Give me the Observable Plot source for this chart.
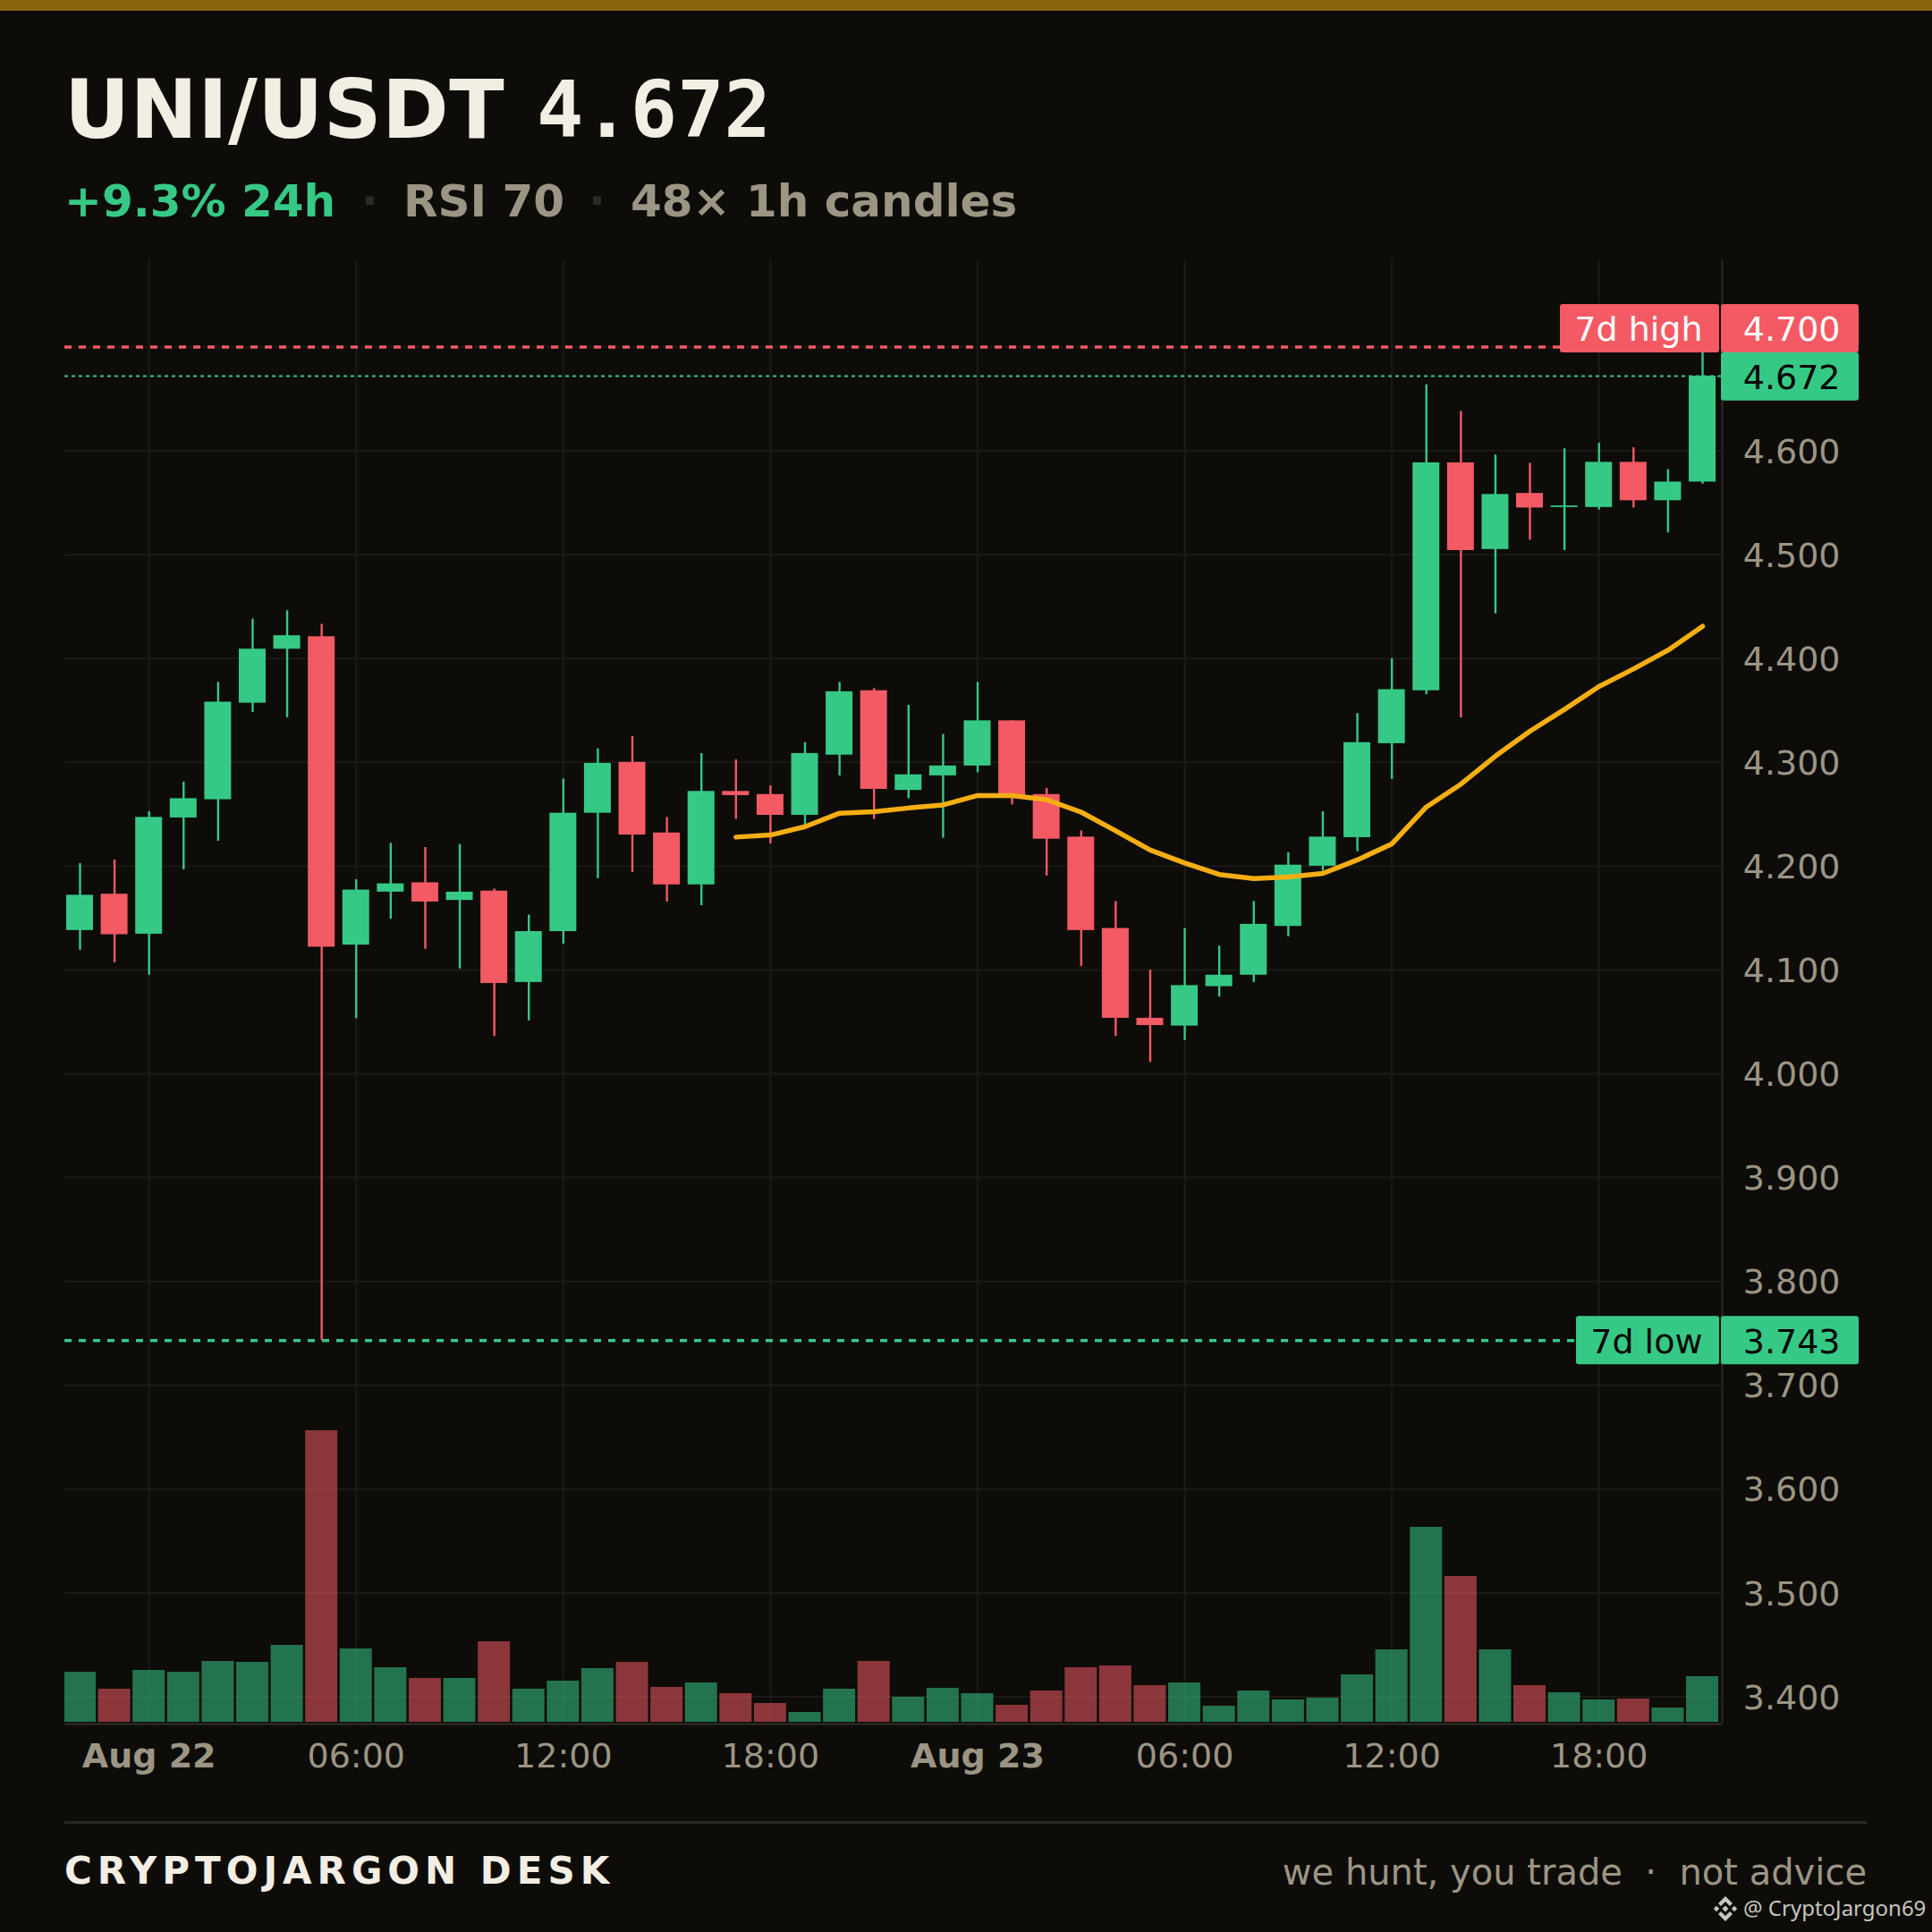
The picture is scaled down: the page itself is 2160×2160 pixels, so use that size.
<!DOCTYPE html>
<html><head><meta charset="utf-8">
<script src="https://cdn.jsdelivr.net/npm/d3@7"></script>
<script src="https://cdn.jsdelivr.net/npm/@observablehq/plot@0.6"></script>
<style>
html,body{margin:0;padding:0;background:#0d0c09;}
#page{position:relative;width:2160px;height:2160px;overflow:hidden;background:#0d0c09;font-family:"DejaVu Sans",sans-serif;}
#band{position:absolute;left:0;top:0;width:2160px;height:12px;background:#8b6410;}
.t{position:absolute;white-space:pre;line-height:1;}
#chart svg,#vol svg{position:absolute;left:0;top:0;background:transparent;}
#chart,#vol{position:absolute;left:0;top:260px;width:2160px;}
</style></head><body>
<div id="page">
<div id="band"></div>
<div class="t" style="left:72px;top:78px;font-size:90px;font-weight:700;letter-spacing:0.4px;color:#f3eee3">UNI/USDT</div>
<div class="t" style="left:600px;top:80px;font-size:87px;font-weight:700;font-family:'DejaVu Sans Mono';color:#f3eee3">4.672</div>
<div class="t" style="left:72px;top:200px;font-size:50px;font-weight:700;color:#36c986">+9.3% 24h</div>
<div class="t" style="left:404px;top:200px;font-size:50px;font-weight:700;color:#2c2a24">·</div>
<div class="t" style="left:451px;top:200px;font-size:50px;font-weight:700;color:#9c9584">RSI 70</div>
<div class="t" style="left:658px;top:200px;font-size:50px;font-weight:700;color:#2c2a24">·</div>
<div class="t" style="left:705px;top:200px;font-size:50px;font-weight:700;color:#9c9584">48× 1h candles</div>
<div id="chart"></div>
<div id="vol"></div>
<div style="position:absolute;left:72px;top:2036px;width:2015px;height:3px;background:#2a2822"></div>
<div class="t" style="left:72px;top:2071px;font-size:42px;font-weight:700;letter-spacing:6px;color:#f3eee3">CRYPTOJARGON DESK</div>
<div class="t" style="right:73px;top:2073px;font-size:40px;color:#9c9584">we hunt, you trade  ·  not advice</div>
<svg style="position:absolute;left:1915px;top:2120px" width="28" height="28" viewBox="0 0 28 28" fill="#c8c6bf">
<path d="M14 0L22 8 19 11 14 6 9 11 6 8zM14 28L22 20 19 17 14 22 9 17 6 20zM14 10.500L17.500 14 14 17.500 10.500 14zM4 10.800L7.200 14 4 17.200 0.800 14zM24 10.800L27.200 14 24 17.200 20.800 14z"/></svg>
<div class="t" style="left:1949px;top:2120.500px;font-size:24px;font-family:'Noto Sans';color:#c8c6bf">@ CryptoJargon69</div>
</div>
<script>
// Hourly candles
const opens  = [4.138,4.173,4.1345,4.2465,4.264,4.357,4.409,4.421,4.124,4.175,4.184,4.167,4.176,4.088,4.137,4.251,4.300,4.232,4.182,4.272,4.269,4.249,4.307,4.369,4.273,4.287,4.2965,4.340,4.269,4.228,4.140,4.0535,4.046,4.084,4.095,4.142,4.200,4.2275,4.318,4.369,4.5885,4.505,4.559,4.5455,4.5455,4.589,4.552,4.570];
const closes = [4.172,4.134,4.247,4.265,4.358,4.409,4.422,4.122,4.177,4.183,4.1655,4.175,4.087,4.137,4.251,4.299,4.230,4.182,4.272,4.268,4.249,4.3085,4.368,4.274,4.288,4.2965,4.340,4.268,4.226,4.138,4.0535,4.0465,4.085,4.095,4.144,4.201,4.228,4.319,4.370,4.5885,4.504,4.558,4.545,4.547,4.589,4.552,4.570,4.672];
const highs  = [4.2025,4.206,4.2525,4.281,4.377,4.438,4.446,4.433,4.187,4.222,4.218,4.221,4.178,4.153,4.284,4.313,4.325,4.247,4.3085,4.3025,4.2775,4.319,4.377,4.371,4.355,4.327,4.377,4.340,4.275,4.234,4.166,4.100,4.140,4.123,4.166,4.213,4.2525,4.347,4.400,4.6635,4.638,4.596,4.588,4.602,4.6075,4.603,4.582,4.700];
const lows   = [4.119,4.107,4.095,4.1965,4.224,4.348,4.343,3.743,4.053,4.149,4.120,4.101,4.036,4.051,4.125,4.188,4.194,4.1655,4.162,4.245,4.2215,4.240,4.287,4.245,4.265,4.227,4.290,4.259,4.1905,4.1035,4.036,4.011,4.032,4.074,4.088,4.132,4.195,4.214,4.2835,4.365,4.343,4.443,4.514,4.504,4.543,4.545,4.521,4.568];
const volumes = [56,37,58,56,68,67,86,326,82,61,49,49,90,37,46,60,67,39,44,32,21,11,37,68,28,38,32,19,35,61,63,41,44,18,35,25,27,53,81,218,163,81,41,33,25,26,16,51];
const maFirst = 19;
const maValues = [4.228,4.230,4.238,4.251,4.2525,4.256,4.259,4.268,4.268,4.264,4.252,4.234,4.2155,4.203,4.192,4.188,4.1895,4.193,4.206,4.2215,4.257,4.279,4.306,4.330,4.351,4.373,4.390,4.408,4.431];
const priceTicks = [3.4,3.5,3.6,3.7,3.8,3.9,4.0,4.1,4.2,4.3,4.4,4.5,4.6];
const gridPrices = [3.4,3.5,3.6,3.7,3.8,3.9,4.0,4.1,4.2,4.3,4.4,4.5,4.6,4.7];
const dayTicks = ["2025-08-22T00:00Z","2025-08-23T00:00Z"].map(s=>new Date(s));
const hourTicks = ["2025-08-22T06:00Z","2025-08-22T12:00Z","2025-08-22T18:00Z","2025-08-23T06:00Z","2025-08-23T12:00Z","2025-08-23T18:00Z"].map(s=>new Date(s));
const HIGH7 = 4.700, LOW7 = 3.743, LAST = 4.672;

const GREEN="#36c986", RED="#f45a63", GOLD="#f5ae12", MUTED="#9c9584", GRID="#1b1a16", AXIS="#2a2822";
const HOUR=3600e3, T0=Date.UTC(2025,7,21,22);
const xDomain=[new Date(T0-0.44*HOUR),new Date(T0+47.57*HOUR)];
const xEnd=xDomain[1];
const candles=opens.map((o,i)=>({t:T0+i*HOUR,o,c:closes[i],h:highs[i],l:lows[i],v:volumes[i],col:closes[i]>=o?GREEN:RED}));
const ma=maValues.map((v,i)=>({t:new Date(T0+(i+maFirst)*HOUR),v}));
const common={width:2160,height:1760,marginTop:30,marginBottom:93,marginLeft:72,marginRight:235,
  x:{type:"utc",domain:xDomain},style:{background:"transparent",fontFamily:"'DejaVu Sans',sans-serif",overflow:"visible"}};
const tagsVal=[{v:HIGH7,txt:"4.700",bg:RED,fg:"#ffffff",sh:-20.6},{v:LAST,txt:"4.672",bg:GREEN,fg:"#000000",sh:0.8},{v:LOW7,txt:"3.743",bg:GREEN,fg:"#000000",sh:0}];
const tagsLab=[{v:HIGH7,txt:"7d high",bg:RED,fg:"#ffffff",sh:-20.6,w:178},{v:LOW7,txt:"7d low",bg:GREEN,fg:"#000000",sh:0,w:160}];
const fm=d3.utcFormat("%H:%M");
const FS=38;

const chart=Plot.plot({...common,
  y:{domain:[3.3737,4.784]},
  marks:[
    Plot.gridY(gridPrices,{stroke:GRID,strokeOpacity:1,strokeWidth:2}),
    Plot.gridX([...dayTicks,...hourTicks],{stroke:GRID,strokeOpacity:1,strokeWidth:2}),
    Plot.ruleY([3.3737],{stroke:AXIS,strokeWidth:2.500}),
    Plot.ruleX([xEnd],{stroke:AXIS,strokeWidth:2}),
    Plot.axisY(priceTicks,{anchor:"right",tickSize:0,tickPadding:0,textAnchor:"end",dx:132,dy:1.500,tickFormat:d3.format(".3f"),fontSize:FS,fill:MUTED,label:null}),
    Plot.axisX(hourTicks,{anchor:"bottom",tickSize:0,tickPadding:22,tickFormat:fm,fontSize:FS,fill:MUTED,label:null}),
    Plot.axisX(dayTicks,{anchor:"bottom",tickSize:0,tickPadding:22,tickFormat:d3.utcFormat("%b %d"),fontSize:FS,fontWeight:"bold",fill:MUTED,label:null}),
    Plot.ruleY([LAST],{x1:xDomain[0],x2:xEnd,stroke:GREEN,strokeWidth:1.800,strokeDasharray:"4 4"}),
    Plot.ruleY([HIGH7],{x1:xDomain[0],x2:xEnd,stroke:RED,strokeWidth:3.500,strokeDasharray:"8 8"}),
    Plot.ruleY([LOW7],{x1:xDomain[0],x2:xEnd,stroke:GREEN,strokeWidth:3.500,strokeDasharray:"8 8"}),
    Plot.ruleX(candles,{x:d=>new Date(d.t),y1:"l",y2:"h",stroke:"col",strokeWidth:2.400}),
    Plot.rect(candles,{x1:d=>new Date(d.t-0.3886*HOUR),x2:d=>new Date(d.t+0.3886*HOUR),y1:d=>Math.min(d.o,d.c),y2:d=>Math.max(d.o,d.c),fill:"col"}),
    Plot.line(ma,{x:"t",y:"v",stroke:GOLD,strokeWidth:5.500,curve:"linear"}),
  ]});
document.getElementById("chart").appendChild(chart);

// price tags, placed through the same y scale
const tagChart=Plot.plot({...common,y:{domain:[3.3737,4.784]},axis:null,
  marks:[
    ...tagsVal.map(d=>Plot.rect([d],{x1:()=>xEnd,x2:()=>xEnd,y1:"v",y2:"v",fill:"bg",rx:3,insetLeft:-1,insetRight:-153,insetTop:-27+d.sh,insetBottom:-27-d.sh})),
    ...tagsLab.map(d=>Plot.rect([d],{x1:()=>xEnd,x2:()=>xEnd,y1:"v",y2:"v",fill:"bg",rx:3,insetLeft:-d.w-3,insetRight:3,insetTop:-27+d.sh,insetBottom:-27-d.sh})),
    ...tagsVal.map(d=>Plot.text([d],{x:()=>xEnd,y:"v",text:"txt",fill:"fg",textAnchor:"end",dx:132,dy:d.sh+1.5,fontSize:FS})),
    ...tagsLab.map(d=>Plot.text([d],{x:()=>xEnd,y:"v",text:"txt",fill:"fg",textAnchor:"end",dx:-22,dy:d.sh+1.5,fontSize:FS})),
  ]});

const vol=Plot.plot({...common,marginBottom:95,
  y:{domain:[0,1635]},axis:null,
  marks:[
    Plot.rect(candles,{x1:d=>new Date(d.t-0.4663*HOUR),x2:d=>new Date(d.t+0.4663*HOUR),y1:0,y2:"v",fill:"col",fillOpacity:0.55,clip:true})
  ]});
document.getElementById("vol").appendChild(vol);
document.getElementById("vol").appendChild(tagChart);
</script>
</body></html>
